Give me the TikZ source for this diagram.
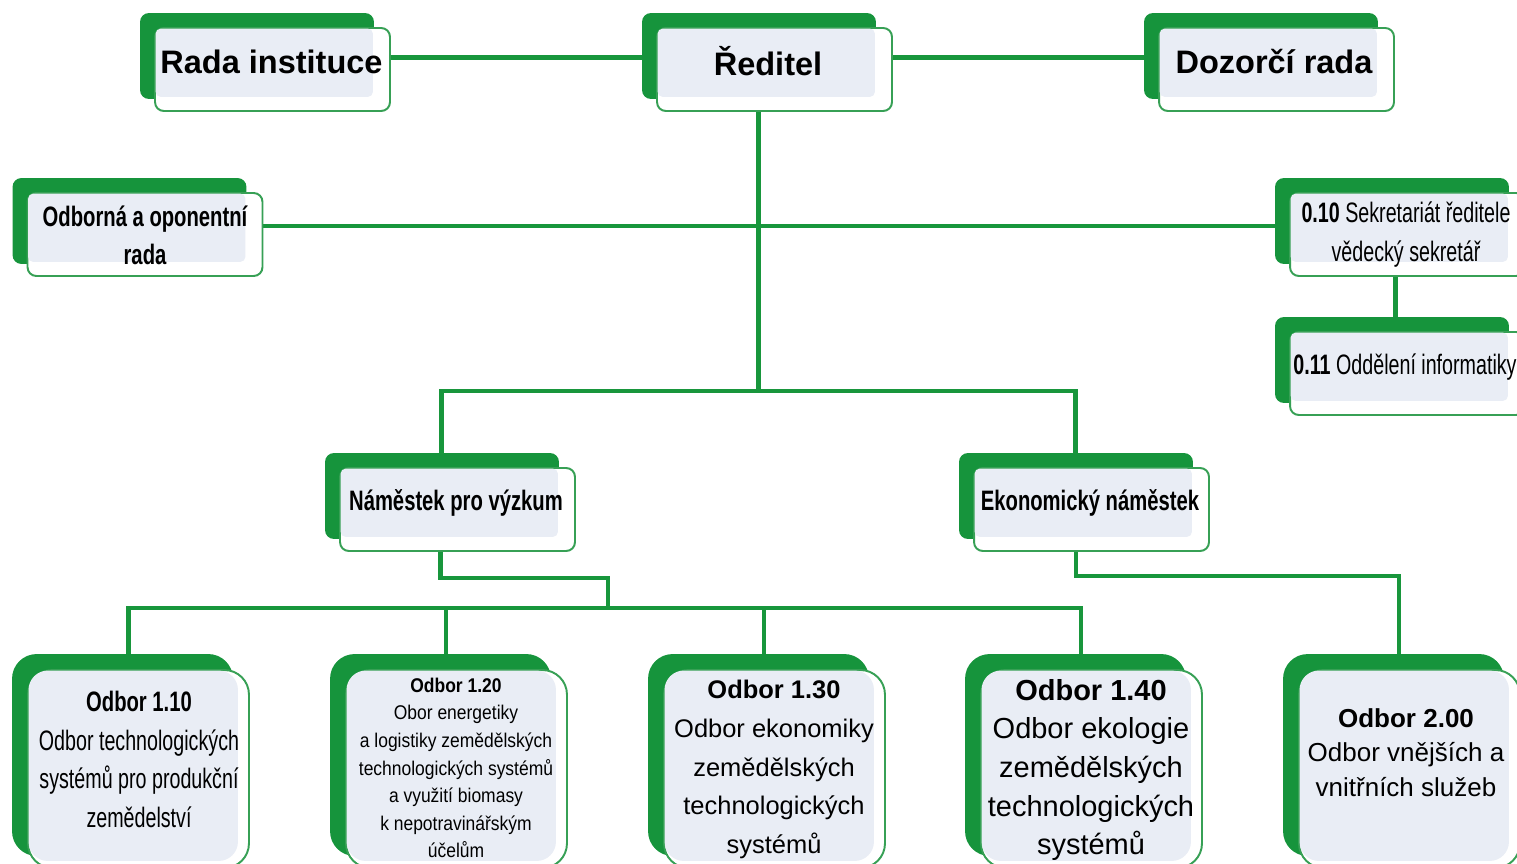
\documentclass[tikz,border=0pt]{standalone}
\usepackage{fontspec}
\setmainfont{Liberation Sans}
\newfontfamily\narrowA[FakeStretch=0.72]{Liberation Sans}
\newfontfamily\narrowR[FakeStretch=0.70]{Liberation Sans}
\newfontfamily\narrowB[FakeStretch=0.88]{Liberation Sans}
\usetikzlibrary{calc}
\pgfdeclarelayer{bg}
\pgfsetlayers{bg,main}
\definecolor{gback}{RGB}{22,148,60}
\definecolor{gline}{RGB}{24,150,60}
\definecolor{gedge}{RGB}{55,160,85}
\definecolor{ginner}{RGB}{233,237,245}
\newcommand\topdeco[1]{%
  \begin{pgfonlayer}{bg}
  \fill[gback,rounded corners=5pt] ($(#1.north west)+(-14,-14)$) rectangle ($(#1.south east)+(-17,-13)$);
  \end{pgfonlayer}
  \fill[ginner,rounded corners=3pt] ($(#1.north west)+(1.5,1.5)$) rectangle ($(#1.south east)+(-18,-15)$);}
\newcommand\botdeco[1]{%
  \begin{pgfonlayer}{bg}
  \fill[gback,rounded corners=14pt] ($(#1.north west)+(-15,-15)$) rectangle ($(#1.south east)+(-17,-13)$);
  \end{pgfonlayer}
  \fill[ginner,rounded corners=11pt] ($(#1.north west)+(1.5,1.5)$) rectangle ($(#1.south east)+(-12,-8)$);}
\begin{document}
\begin{tikzpicture}[x=0.02cm,y=-0.02cm,
  tfront/.style={draw=gedge,line width=1.1pt,fill=white,rounded corners=5pt,
    minimum width=4.7cm,minimum height=1.66cm,inner sep=0pt},
  bfront/.style={draw=gedge,line width=1.1pt,fill=white,rounded corners=14pt,
    minimum width=4.42cm,minimum height=3.96cm,inner sep=0pt},
  conn/.style={draw=gline,line width=2.5pt},
  hdr/.style={inner sep=0pt,font=\bfseries\fontsize{18.5}{22}\selectfont},
  nb/.style={inner sep=0pt,align=center,font=\narrowA\bfseries\fontsize{16}{21.5}\selectfont},
  nr/.style={inner sep=0pt,align=center,font=\narrowR\fontsize{16}{22}\selectfont}]
\path[use as bounding box] (0,0) rectangle (1517,864);
\clip (0,0) rectangle (1517,864);

% top row
\node[tfront] (rada) at (272.5,69.5) {}; \topdeco{rada}
\node[tfront] (red) at (774.5,69.5) {}; \topdeco{red}
\node[tfront] (dozor) at (1276.5,69.5) {}; \topdeco{dozor}
\node[tfront] (odb) at (145,234.5) {}; \topdeco{odb}
\node[tfront] (sek) at (1407.5,234.5) {}; \topdeco{sek}
\node[tfront] (inf) at (1407.5,373.5) {}; \topdeco{inf}
\node[tfront] (nam) at (457.5,509.5) {}; \topdeco{nam}
\node[tfront] (eko) at (1091.5,509.5) {}; \topdeco{eko}
% bottom row
\node[bfront] (o110) at (138.5,769) {}; \botdeco{o110}
\node[bfront] (o120) at (456.5,769) {}; \botdeco{o120}
\node[bfront] (o130) at (774.5,769) {}; \botdeco{o130}
\node[bfront] (o140) at (1091.5,769) {}; \botdeco{o140}
\node[bfront] (o200) at (1409.5,769) {}; \botdeco{o200}

% texts
\node[hdr] (t-rada) at (271.5,62) {Rada instituce};
\node[hdr] (t-red) at (768,61) {Ředitel};
\node[hdr] (t-doz) at (1274,62) {Dozorčí rada};
\node[nb] (t-odb) at (145,235) {Odborná a oponentní\\rada};
\node[nr] (t-sek) at (1406,234.5) {{\bfseries 0.10} Sekretariát ředitele\\vědecký sekretář};
\node[nr] (t-inf) at (1405,367) {{\bfseries 0.11} Oddělení informatiky};
\node[nb] (t-nam) at (456,503) {Náměstek pro výzkum};
\node[nb] (t-eko) at (1090,503) {Ekonomický náměstek};
\node[nr] (t-110) at (139,759.5) {{\narrowA\bfseries Odbor 1.10}\\Odbor technologických\\systémů pro produkční\\zemědelství};
\node[inner sep=0pt,align=center,font=\narrowB\fontsize{11.3}{15.7}\selectfont] (t-120) at (456,768)
  {{\bfseries Odbor 1.20}\\Obor energetiky\\a logistiky zemědělských\\technologických systémů\\a využití biomasy\\k nepotravinářským\\účelům};
\node[inner sep=0pt,align=center,font=\fontsize{14.5}{22}\selectfont] (t-130) at (774,769.5)
  {{\bfseries Odbor 1.30}\\Odbor ekonomiky\\zemědělských\\technologických\\systémů};
\node[inner sep=0pt,align=center,font=\fontsize{16.5}{22}\selectfont] (t-140) at (1091,770)
  {{\bfseries Odbor 1.40}\\Odbor ekologie\\zemědělských\\technologických\\systémů};
\node[inner sep=0pt,align=center,font=\fontsize{14.8}{19.6}\selectfont] (t-200) at (1406,752.5)
  {{\bfseries Odbor 2.00}\\Odbor vnějších a\\vnitřních služeb};

% connectors
\coordinate (j1) at ($(red.south)+(-16,279)$);
\coordinate (b1) at (608,608);
\begin{pgfonlayer}{bg}
\draw[conn] ($(rada.east)+(0,-12)$) -- ($(red.west)+(-14,-12)$);
\draw[conn] ($(red.east)+(0,-12)$) -- ($(dozor.west)+(-14,-12)$);
\draw[conn] ($(odb.east)+(0,-8.5)$) -- ($(sek.west)+(-14,-8.5)$);
\draw[conn] ($(red.south)+(-16,0)$) -- (j1);
\draw[conn] ($(nam.north)+(-16,-13)$) |- (j1) -| ($(eko.north)+(-16,-13)$);
\draw[conn] ($(sek.south)+(-12,0)$) -- ($(inf.north)+(-12,-14)$);
\draw[conn] ($(nam.south)+(-17,0)$) -- ++(0,26) -| (b1);
\draw[conn] ($(o110.north)+(-10,-15)$) |- (b1) -| ($(o140.north)+(-10.5,-15)$);
\draw[conn] ($(o120.north)+(-10.5,-15)$) |- (b1);
\draw[conn] ($(o130.north)+(-10.5,-15)$) |- (b1);
\draw[conn] ($(eko.south)+(-15.5,0)$) -- ++(0,24) -| ($(o200.north)+(-10.5,-15)$);
\end{pgfonlayer}
\end{tikzpicture}
\end{document}
